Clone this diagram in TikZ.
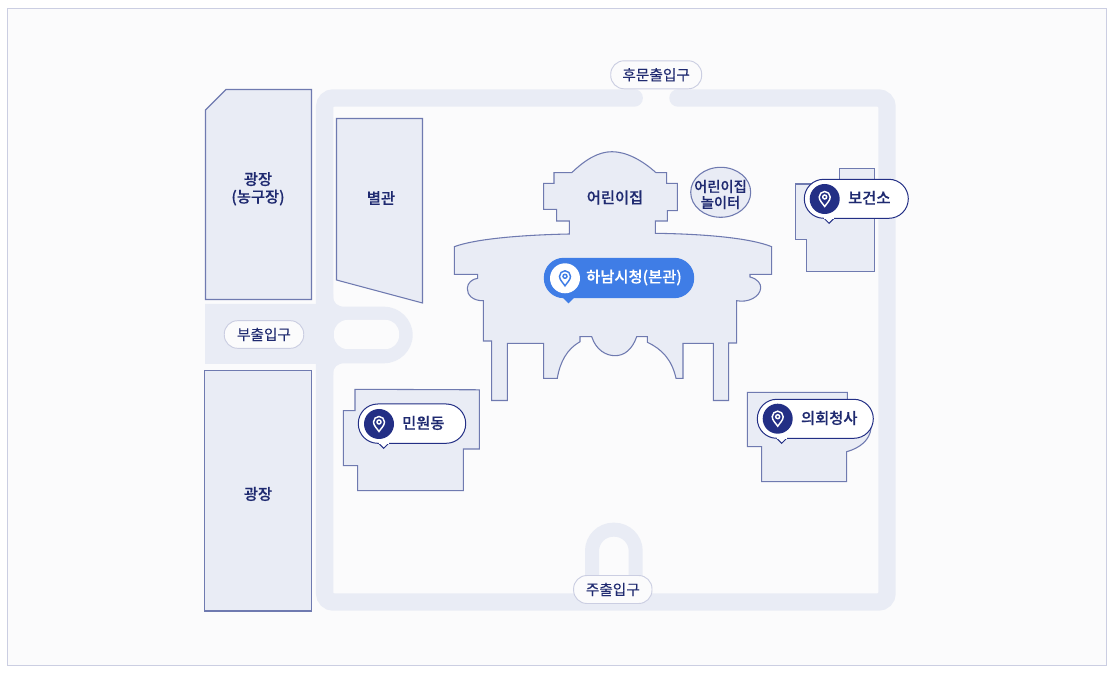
\documentclass[tikz,border=0pt]{standalone}
\usepackage{fontspec}
\newfontfamily\kormed[FakeBold=0.35]{Noto Sans CJK KR Medium}
\newfontfamily\korreg[FakeBold=0.15]{Noto Sans CJK KR}
\usepackage{xcolor}
\definecolor{pagebg}{HTML}{FBFBFC}
\definecolor{framegray}{HTML}{CBCEE2}
\definecolor{roadblue}{HTML}{E9ECF5}
\definecolor{wallblue}{HTML}{6F7AB0}
\definecolor{navy}{HTML}{1F2A70}
\definecolor{pinnavy}{HTML}{232F85}
\definecolor{hallblue}{HTML}{3F7DE6}
\tikzstyle{Building} = [
draw=wallblue,
fill=roadblue,
line width=0.8pt]
\tikzstyle{Road} = [
draw=roadblue,
line width=13.1pt,
line cap=round,
rounded corners=6.5pt]
\tikzstyle{Label} = [
text=navy,
font=\kormed\fontsize{11.5pt}{13.2pt}\selectfont,
align=center,
inner sep=0pt]
\tikzstyle{Gate} = [
draw=framegray,
fill=pagebg,
line width=0.7pt,
rounded corners=10pt,
text=navy,
font=\korreg\fontsize{11pt}{13pt}\selectfont,
inner sep=0pt]
\tikzstyle{CalloutNavy} = [
draw=pinnavy,
fill=white,
line width=0.75pt]
\tikzstyle{CalloutBlue} = [
draw=hallblue,
fill=hallblue,
line width=0.75pt]
\tikzset{
pinmark/.pic={
    \fill[pic actions] (0,0) circle (15);
},
pinglyph/.pic={
    \draw[pic actions, line width=1.1pt, fill=none] (0,7.5) .. controls (-2,4.5) and (-5.5,1.5) .. (-5.5,-2)
        .. controls (-5.5,-5) and (-3,-7.5) .. (0,-7.5)
        .. controls (3,-7.5) and (5.5,-5) .. (5.5,-2)
        .. controls (5.5,1.5) and (2,4.5) .. (0,7.5) -- cycle;
    \draw[pic actions, line width=1.1pt, fill=none] (0,-2) circle (2);
}}
\newcommand{\Callout}[6]{
    \draw[#6, rounded corners=14.6pt] (#1,#2) rectangle (#3,#4);
    \draw[#6] (#5-5,#4) -- (#5,#4+5) -- (#5+5,#4);
    \fill[#6, draw=none] (#5-5,#4-1) rectangle (#5+5,#4+0.6);
}
\begin{document}
\begin{tikzpicture}[x=0.75pt, y=-0.75pt]
    \useasboundingbox (0,0) rectangle (1115,673);
    \draw[draw=framegray, fill=pagebg, line width=0.75pt] (7.5,8.5) rectangle (1106.5,665.5);

    \draw[Road] (634.2,98) -- (324.7,98) -- (324.7,602) -- (887,602) -- (887,98) -- (678,98);
    \draw[Road, line width=10.5pt, line cap=butt, rounded corners=16pt] (592,600) -- (592,529.7) -- (635.7,529.7) -- (635.7,600);
    \fill[roadblue] (205,304) -- (333,304) -- (333,295) .. controls (333,303) and (337,306.7) .. (345,306.7)
        -- (384,306.7) .. controls (399.6,306.7) and (412.7,319.4) .. (412.7,335)
        .. controls (412.7,350.6) and (399.6,363.3) .. (384,363.3)
        -- (345,363.3) .. controls (337,363.3) and (333,367) .. (333,375)
        -- (316,375) -- (316,364) -- (205,364) -- cycle;
    \fill[pagebg, rounded corners=10pt] (334,320) rectangle (399,349);

    \draw[Building] (205.5,110) -- (226,89.5) -- (311.5,89.5) -- (311.5,299.5) -- (205.5,299.5) -- cycle;
    \draw[Building] (204.5,370.5) rectangle (311.5,611);
    \draw[Building] (336.5,118.5) -- (422.5,118.5) -- (422.5,303) -- (336.5,280) -- cycle;

    \draw[Building] (571.7,172.7) .. controls (585,160) and (598,151.7) .. (612,151.7)
        .. controls (626,151.7) and (642,160) .. (656,172.7)
        -- (666.7,172.7) -- (666.7,183.3) -- (677.3,183.3) -- (677.3,210.7) -- (667.3,210.7)
        -- (667.3,221) -- (655.3,221) -- (655.3,233.3)
        .. controls (705,234) and (750,238) .. (771.7,246.7)
        -- (771.7,274.3) -- (750,274.3) -- (750,277)
        .. controls (758,279) and (761,284) .. (760.7,288)
        .. controls (760,297) and (748,303) .. (736.7,300.7)
        -- (736.7,343) -- (728.7,343) -- (728.7,400.5) -- (713.3,400.5) -- (713.3,343.3) -- (683,343.3) -- (683,378.3) -- (676,378.3)
        .. controls (672,360) and (662,349) .. (647.3,342.3)
        -- (647.3,336.7) -- (636.7,336.7)
        .. controls (632,350) and (624,355.7) .. (615,355.7)
        .. controls (606,355.7) and (596,350) .. (591.7,336.7)
        -- (580,336.7) -- (580,341.7)
        .. controls (567,349) and (560,362) .. (557.3,378.3)
        -- (543.7,378.3) -- (543.7,343.3) -- (507.3,343.3) -- (507.3,400.5) -- (491.7,400.5) -- (491.7,341) -- (483.3,341) -- (483.3,300.7)
        .. controls (473,301) and (467,295) .. (467.3,288.3)
        .. controls (467.5,283) and (472,279) .. (477.7,278.3)
        -- (477.7,274.3) -- (454.3,274.3) -- (454.3,246.7)
        .. controls (475,239) and (520,235) .. (569.3,234)
        -- (569.3,221) -- (556.7,221) -- (556.7,209.3) -- (543.7,209.3) -- (543.7,183.3) -- (554,183.3) -- (554,172.7) -- cycle;
    \draw[Building] (720.7,192.3) ellipse (30 and 25);

    \draw[Building] (839.3,184) -- (839.3,168.3) -- (874.3,168.3) -- (874.3,271.7) -- (806.7,271.7) -- (806.7,239.3) -- (795.3,239.3) -- (795.3,184) -- cycle;
    \draw[Building] (747.3,392.3) -- (847.3,392.3) -- (847.3,405) -- (871,428) .. controls (870,440) and (860,448) .. (846.7,451.7)
        -- (846.7,481.7) -- (761.7,481.7) -- (761.7,446.7) -- (747.3,446.7) -- cycle;
    \draw[Building] (355,389.3) -- (479.3,389.8) -- (479.3,449) -- (463.3,449) -- (463.3,490.7) -- (357.7,490.7) -- (357.7,465.7) -- (343.3,465.7) -- (343.3,410.7) -- (355,410.7) -- cycle;

    \node[Label] (plazaCourt) at (258,188.8) {광장\\(농구장)};
    \node[Label] (plazaSouth) at (258,494) {광장};
    \node[Label] (annex) at (381,198) {별관};
    \node[Label] (daycare) at (615,197.5) {어린이집};
    \node[Label, font=\kormed\fontsize{10.7pt}{12pt}\selectfont] (playground) at (720.5,194.5) {어린이집\\놀이터};

    \node[Gate, minimum width=68.2pt, minimum height=21pt] (gateNorth) at (656.2,74.8) {후문출입구};
    \node[Gate, minimum width=59.6pt, minimum height=20.7pt] (gateWest) at (264,334.5) {부출입구};
    \node[Gate, minimum width=58.8pt, minimum height=21pt] (gateSouth) at (612.8,589.5) {주출입구};

    \Callout{544.3}{258.3}{693.7}{297.7}{568.5}{CalloutBlue}
    \pic[white] at (565,278.3) {pinmark};
    \pic[hallblue] at (565,278.3) {pinglyph};
    \node[Label, text=white] (cityHall) at (634,277.5) {하남시청(본관)};

    \Callout{804.3}{179.3}{908.3}{218.3}{829}{CalloutNavy}
    \pic[pinnavy] at (824.7,199) {pinmark};
    \pic[white] at (824.7,199) {pinglyph};
    \node[Label] (clinic) at (869.3,197.7) {보건소};

    \Callout{757.3}{399.3}{873.3}{438.3}{781.7}{CalloutNavy}
    \pic[pinnavy] at (777.7,418.7) {pinmark};
    \pic[white] at (777.7,418.7) {pinglyph};
    \node[Label] (council) at (829.3,418) {의회청사};

    \Callout{358.3}{404}{465.7}{443.3}{383.7}{CalloutNavy}
    \pic[pinnavy] at (379,424) {pinmark};
    \pic[white] at (379,424) {pinglyph};
    \node[Label] (civil) at (423.3,423) {민원동};
\end{tikzpicture}
\end{document}
